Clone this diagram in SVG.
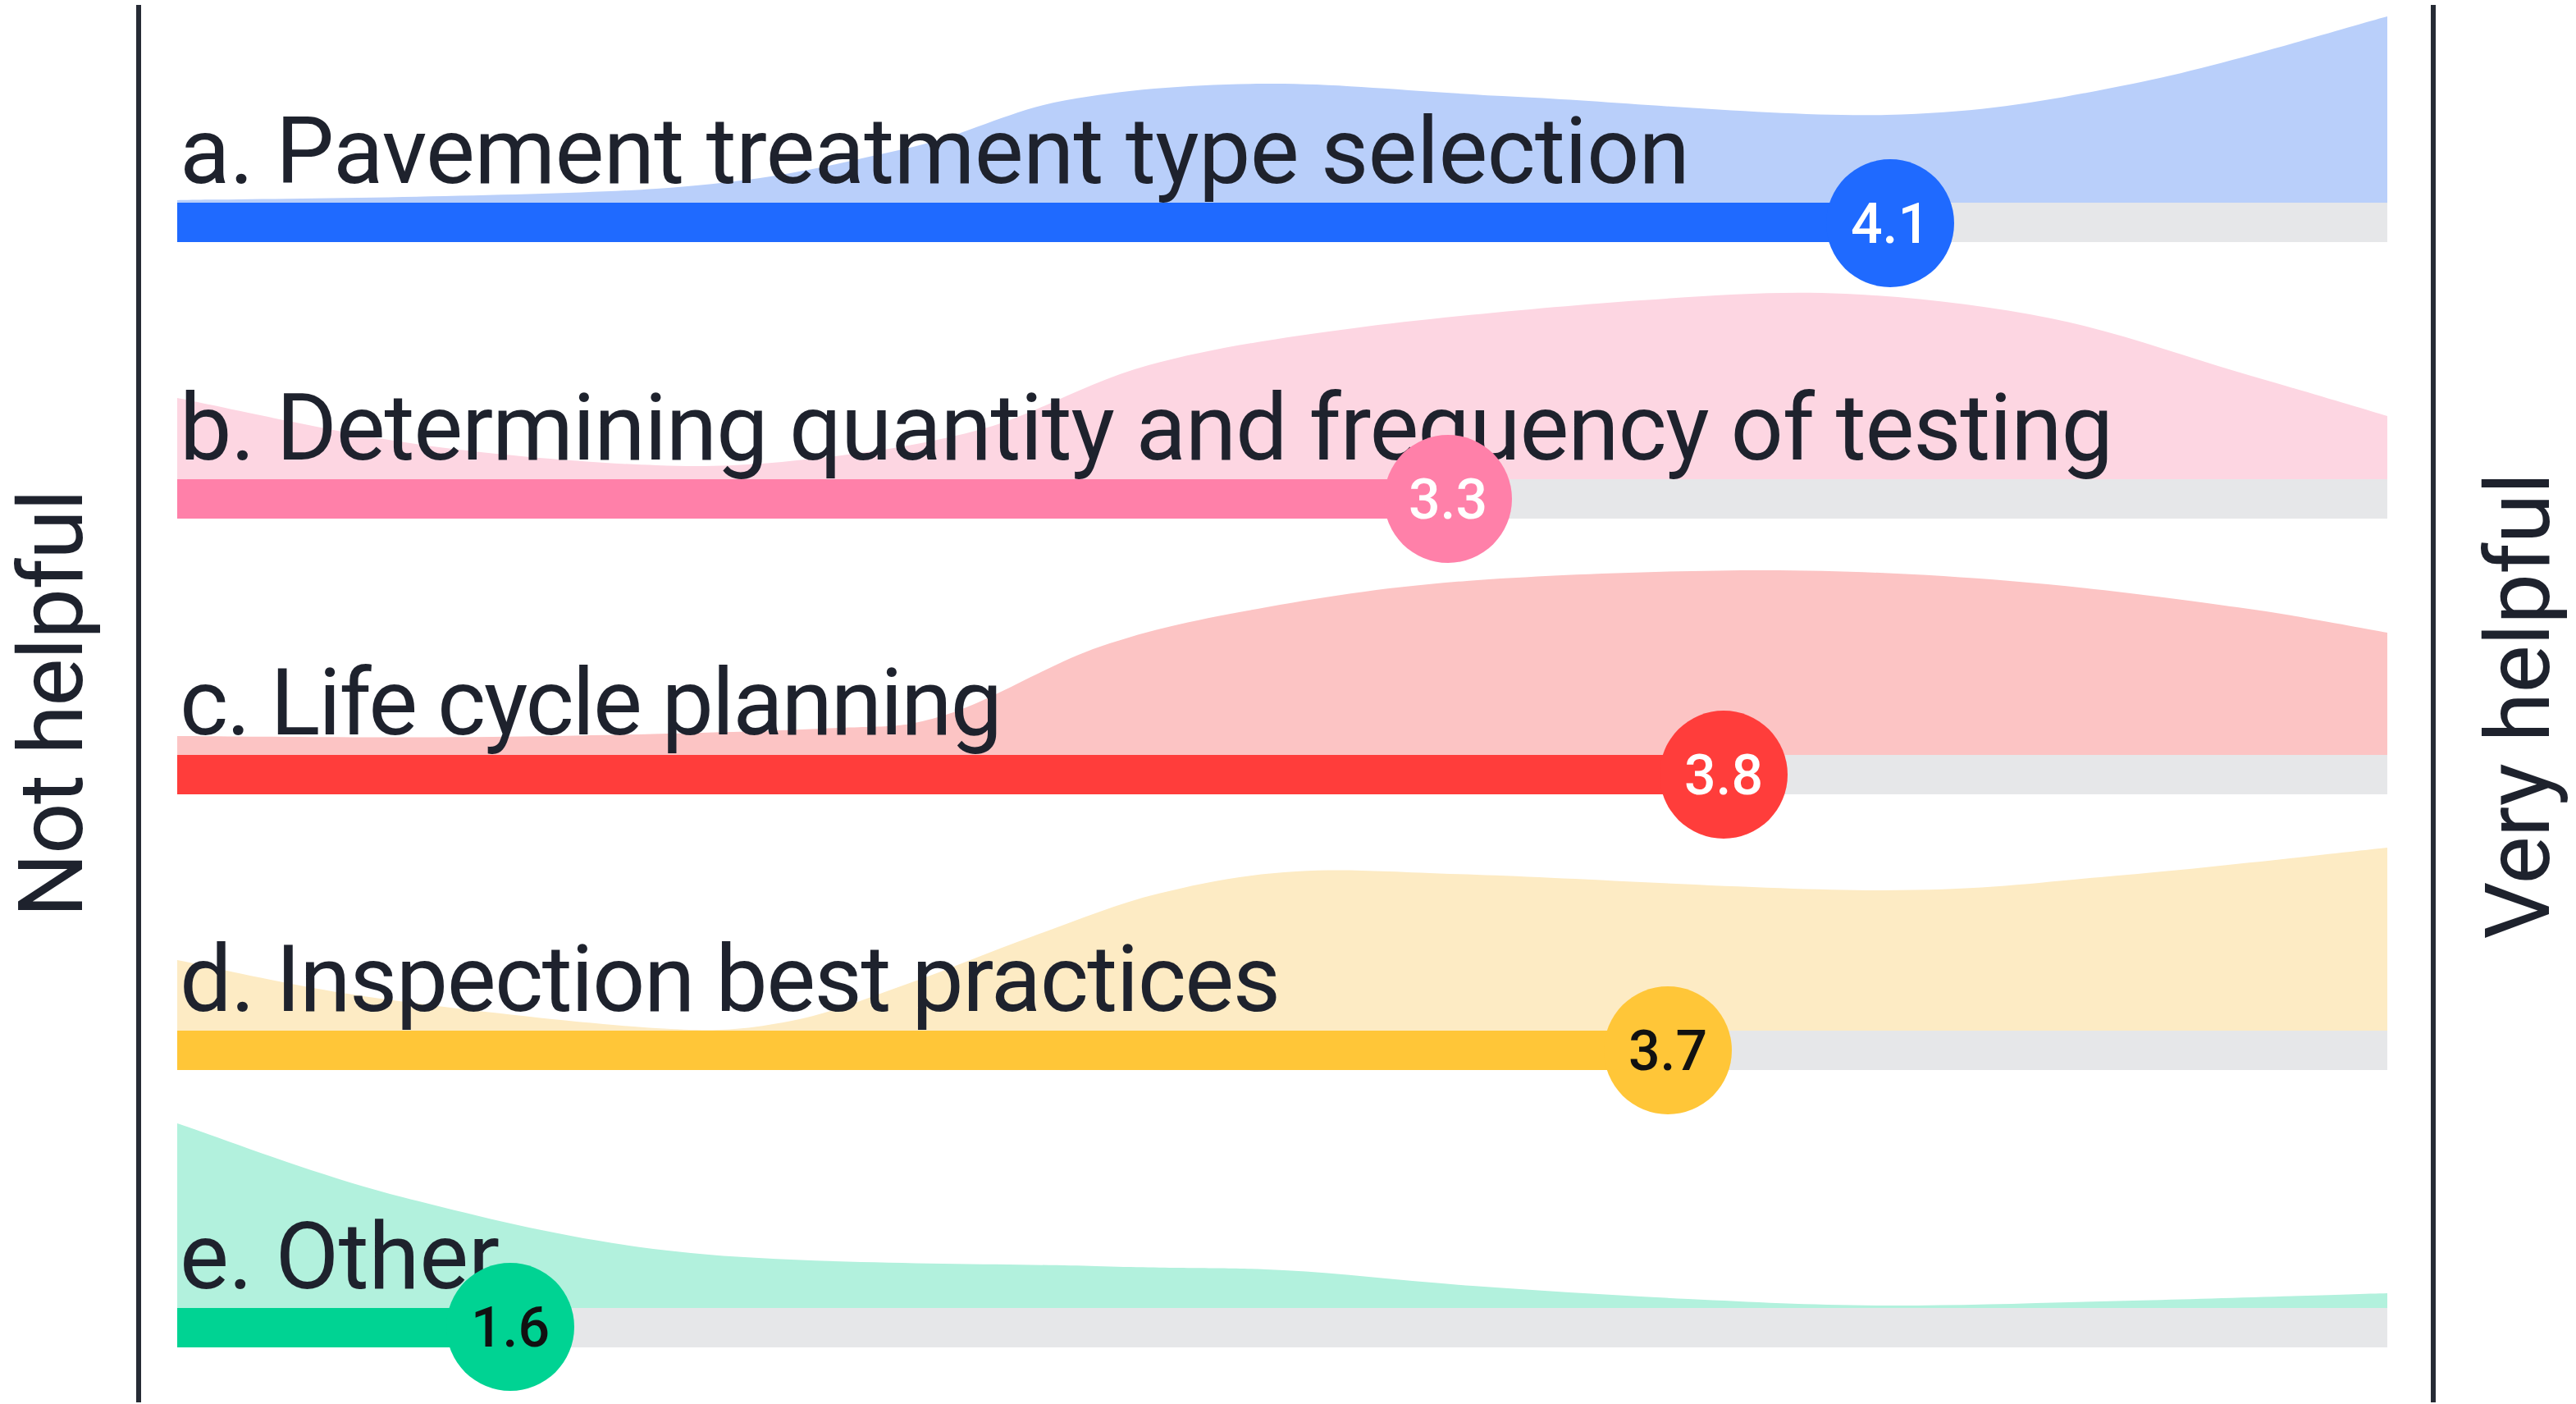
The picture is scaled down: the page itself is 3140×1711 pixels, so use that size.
<svg xmlns="http://www.w3.org/2000/svg" width="3140" height="1711" viewBox="0 0 3140 1711">
<style>
.lbl{font-family:Roboto,"Liberation Sans",sans-serif;font-size:113px;fill:#1e222d}
.ax{font-family:Roboto,"Liberation Sans",sans-serif;font-size:110px;fill:#1e222d}
.val{font-family:Roboto,"Liberation Sans",sans-serif;font-size:68px;font-weight:500;text-anchor:middle}
.track{fill:#e6e7e9}
.axis{stroke:#262b35;stroke-width:6;fill:none}
</style>
<rect width="3140" height="1711" fill="#ffffff"/>
<g id="axes">
<line class="axis" x1="169" y1="6" x2="169" y2="1709"/>
<line class="axis" x1="2966" y1="6" x2="2966" y2="1709"/>
<text class="ax" transform="translate(100,857) rotate(-90)" text-anchor="middle" textLength="522">Not helpful</text>
<text class="ax" transform="translate(3107,860) rotate(-90)" text-anchor="middle" textLength="569">Very helpful</text>
</g>
<g id="row-a">
<path fill="#b9cffa" d="M216,247 L216,244 C313,242 653,240 800,230 C947,220 1017,200 1100,182 C1183,164 1227,135 1300,122 C1373,109 1448,103 1540,102 C1632,101 1723,112 1850,118 C1977,124 2175,143 2300,140 C2425,137 2498,122 2600,102 C2702,82 2858,34 2910,20 L2910,247 Z"/>
<rect class="track" x="216" y="247" width="2694" height="48"/>
<rect fill="#1f6aff" x="216" y="247" width="2088" height="48"/>
<text class="lbl" x="219" y="223" textLength="1841">a. Pavement treatment type selection</text>
<circle cx="2304" cy="272" r="78" fill="#1f6aff"/>
<text class="val" x="2304" y="296" fill="#ffffff">4.1</text>
</g>
<g id="row-b">
<path fill="#fdd6e2" d="M216,584 L216,485 C263,494 403,526 500,540 C597,554 717,564 800,567 C883,570 933,565.5 1000,558 C1067,550.5 1133,540.8 1200,522 C1267,503 1325,465.3 1400,445 C1475,424.7 1550,413.2 1650,400 C1750,386.8 1900,373 2000,366 C2100,359 2167,354.3 2250,358 C2333,361.7 2420.5,372.2 2500,388 C2579.5,403.8 2658.7,433.2 2727,453 C2795.3,472.8 2879.5,498 2910,507 L2910,584 Z"/>
<rect class="track" x="216" y="584" width="2694" height="48"/>
<rect fill="#ff80a9" x="216" y="584" width="1549" height="48"/>
<text class="lbl" x="219" y="560" textLength="2357">b. Determining quantity and frequency of testing</text>
<circle cx="1765" cy="608" r="78" fill="#ff80a9"/>
<text class="val" x="1765" y="632" fill="#ffffff">3.3</text>
</g>
<g id="row-c">
<path fill="#fcc4c4" d="M216,920 L216,897 C280,897.2 469.3,899.5 600,898 C730.7,896.5 908.3,892.3 1000,888 C1091.7,883.7 1093.2,888.7 1150,872 C1206.8,855.3 1277.2,809.7 1341,788 C1404.8,766.3 1458.5,755.3 1533,742 C1607.5,728.7 1685.2,715.8 1788,708 C1890.8,700.2 2039.7,695 2150,695 C2260.3,695 2353.8,700.5 2450,708 C2546.2,715.5 2650.3,729.5 2727,740 C2803.7,750.5 2879.5,765.8 2910,771 L2910,920 Z"/>
<rect class="track" x="216" y="920" width="2694" height="48"/>
<rect fill="#ff3d3b" x="216" y="920" width="1885" height="48"/>
<text class="lbl" x="219" y="895" textLength="1003">c. Life cycle planning</text>
<circle cx="2101" cy="944" r="78" fill="#ff3d3b"/>
<text class="val" x="2101" y="968" fill="#ffffff">3.8</text>
</g>
<g id="row-d">
<path fill="#fdebc4" d="M216,1256 L216,1170 C255,1177.5 352.7,1201.2 450,1215 C547.3,1228.8 715,1248 800,1253 C885,1258 909,1254 960,1245 C1011,1236 1056.2,1216.3 1106,1199 C1155.8,1181.7 1208,1159.3 1259,1141 C1310,1122.7 1358.5,1102.2 1412,1089 C1465.5,1075.8 1515.3,1065.8 1580,1062 C1644.7,1058.2 1681.5,1062.2 1800,1066 C1918.5,1069.8 2160.7,1084.8 2291,1085 C2421.3,1085.2 2478.8,1075.7 2582,1067 C2685.2,1058.3 2855.3,1038.7 2910,1033 L2910,1256 Z"/>
<rect class="track" x="216" y="1256" width="2694" height="48"/>
<rect fill="#ffc638" x="216" y="1256" width="1817" height="48"/>
<text class="lbl" x="219" y="1232" textLength="1342">d. Inspection best practices</text>
<circle cx="2033" cy="1280" r="78" fill="#ffc638"/>
<text class="val" x="2033" y="1304" fill="#111111">3.7</text>
</g>
<g id="row-e">
<path fill="#b2f1dd" d="M216,1594 L216,1369 C261.8,1384 386.7,1432.7 491,1459 C595.3,1485.3 701.2,1513 842,1527 C982.8,1541 1215.5,1539.5 1336,1543 C1456.5,1546.5 1488.5,1544 1565,1548 C1641.5,1552 1712.8,1561.2 1795,1567 C1877.2,1572.8 1973.8,1579 2058,1583 C2142.2,1587 2209.7,1590.7 2300,1591 C2390.3,1591.3 2498.3,1587.5 2600,1585 C2701.7,1582.5 2858.3,1577.5 2910,1576 L2910,1594 Z"/>
<rect class="track" x="216" y="1594" width="2694" height="48"/>
<rect fill="#00d393" x="216" y="1594" width="406" height="48"/>
<text class="lbl" x="219" y="1570" textLength="390">e. Other</text>
<circle cx="622" cy="1617" r="78" fill="#00d393"/>
<text class="val" x="622" y="1641" fill="#111111">1.6</text>
</g>
</svg>
